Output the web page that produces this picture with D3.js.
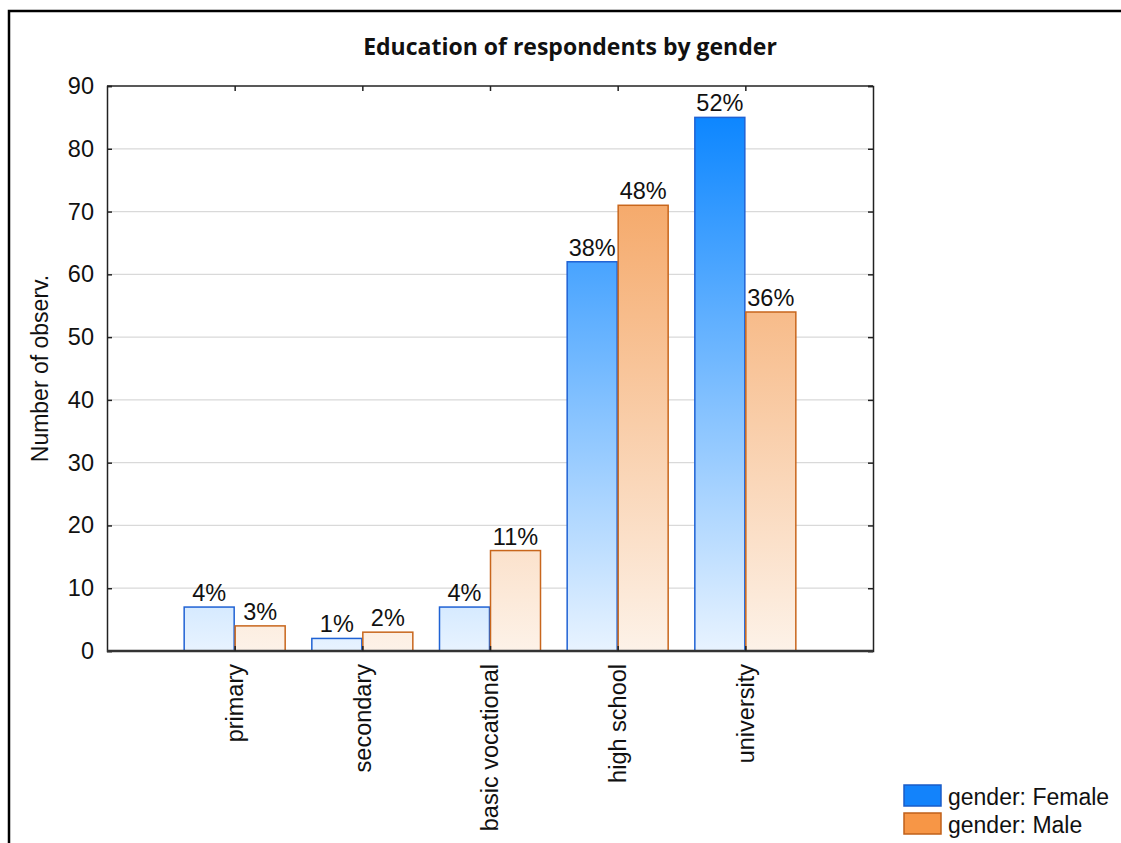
<!DOCTYPE html>
<html>
<head>
<meta charset="utf-8">
<script src="https://cdn.jsdelivr.net/npm/d3@7"></script>
<style>
  html, body { margin: 0; padding: 0; background: #fff; }
  svg { display: block; }
  text { font-family: "Liberation Sans", Arial, sans-serif; fill: #111; }
</style>
</head>
<body>
<svg id="chart" width="1121" height="843"></svg>
<script>
// Education level counts by gender
const categories = ["primary", "secondary", "basic vocational", "high school", "university"];
const genders = ["Female", "Male"];
const femaleCounts = [7, 2, 7, 62, 85];
const maleCounts = [4, 3, 16, 71, 54];
const femaleShare = ["4%", "1%", "4%", "38%", "52%"];
const maleShare = ["3%", "2%", "11%", "48%", "36%"];
const yTicks = [0, 10, 20, 30, 40, 50, 60, 70, 80, 90];

const svg = d3.select("#chart");
const W = 1121, H = 843;
const plot = { left: 107, right: 873, top: 86, bottom: 651 };
const FONT = "23.5px";

const x = d3.scalePoint().domain(categories).range([plot.left, plot.right]).padding(1);
const xInner = d3.scaleBand().domain(genders).range([-51, 51]);
const y = d3.scaleLinear().domain([0, 90]).range([plot.bottom, plot.top]);

// Vertical gradients spanning the value range, shared by every bar of a series
const defs = svg.append("defs");
function gradient(id, top, bottom) {
  const g = defs.append("linearGradient").attr("id", id)
    .attr("gradientUnits", "userSpaceOnUse")
    .attr("x1", 0).attr("x2", 0).attr("y1", y(90)).attr("y2", y(0));
  g.append("stop").attr("offset", 0).attr("stop-color", top);
  g.append("stop").attr("offset", 1).attr("stop-color", bottom);
}
gradient("gradFemale", "#0080ff", "#e8f3ff");
gradient("gradMale", "#f3974b", "#fdf2e8");

const styles = {
  Female: { fill: "url(#gradFemale)", stroke: "#1f62d4", legend: "#1383fb", legendStroke: "#1a5cc8" },
  Male: { fill: "url(#gradMale)", stroke: "#c8661c", legend: "#f79646", legendStroke: "#c0601a" }
};

// Outer frame
svg.append("path")
  .attr("d", `M9,${H} L9,11 L${W},11`)
  .attr("fill", "none").attr("stroke", "#000").attr("stroke-width", 2.5);

// Title
svg.append("text")
  .attr("x", 570).attr("y", 55)
  .attr("text-anchor", "middle")
  .style("font-family", "'Open Sans', sans-serif")
  .style("font-weight", "bold")
  .style("font-size", "23px")
  .text("Education of respondents by gender");

// Horizontal gridlines
svg.append("g").selectAll("line")
  .data(yTicks.filter(t => t > 0 && t < 90))
  .join("line")
  .attr("x1", plot.left).attr("x2", plot.right)
  .attr("y1", d => y(d)).attr("y2", d => y(d))
  .attr("stroke", "#d9d9d9").attr("stroke-width", 1.2);

// Bars
const rows = categories.map((c, i) => ({
  category: c,
  values: [
    { gender: "Female", value: femaleCounts[i], label: femaleShare[i] },
    { gender: "Male", value: maleCounts[i], label: maleShare[i] }
  ]
}));

const groups = svg.append("g").selectAll("g")
  .data(rows).join("g")
  .attr("transform", d => `translate(${x(d.category)},0)`);

groups.selectAll("rect")
  .data(d => d.values).join("rect")
  .attr("x", d => xInner(d.gender) + 0.5)
  .attr("width", xInner.bandwidth() - 1)
  .attr("y", d => y(d.value))
  .attr("height", d => y(0) - y(d.value))
  .attr("fill", d => styles[d.gender].fill)
  .attr("stroke", d => styles[d.gender].stroke)
  .attr("stroke-width", 1.5);

groups.selectAll("text.val")
  .data(d => d.values).join("text")
  .attr("class", "val")
  .attr("x", d => xInner(d.gender) + xInner.bandwidth() / 2)
  .attr("y", d => y(d.value) - 6)
  .attr("text-anchor", "middle")
  .style("font-size", FONT)
  .text(d => d.label);

// Axes: left and bottom with labels, top and right as frame with inner ticks
const axisColor = "#222";
const left = svg.append("g").attr("transform", `translate(${plot.left},0)`)
  .call(d3.axisLeft(y).tickValues(yTicks).tickSize(0).tickPadding(13));
left.select(".domain").remove();
left.selectAll("text").style("font-size", FONT).style("font-family", "'Liberation Sans', Arial, sans-serif").attr("fill", "#111");

svg.append("g").attr("transform", `translate(${plot.left},0)`)
  .call(d3.axisRight(y).tickValues(yTicks).tickSize(5).tickFormat(""))
  .call(g => g.selectAll("line,path").attr("stroke", axisColor).attr("stroke-width", 1.5));
svg.append("g").attr("transform", `translate(${plot.right},0)`)
  .call(d3.axisLeft(y).tickValues(yTicks).tickSize(5).tickFormat(""))
  .call(g => g.selectAll("line,path").attr("stroke", axisColor).attr("stroke-width", 1.5));
svg.append("g").attr("transform", `translate(0,${plot.top})`)
  .call(d3.axisBottom(x).tickSize(5).tickFormat(""))
  .call(g => g.select(".domain").attr("d", `M${plot.left},0H${plot.right}`))
  .call(g => g.selectAll("line,path").attr("stroke", axisColor).attr("stroke-width", 1.5));
svg.append("g").attr("transform", `translate(0,${plot.bottom})`)
  .call(d3.axisTop(x).tickSize(5).tickFormat(""))
  .call(g => g.select(".domain").attr("d", `M${plot.left},0H${plot.right}`))
  .call(g => g.selectAll("line").attr("stroke", axisColor).attr("stroke-width", 1.5))
  .call(g => g.select(".domain").attr("stroke", "#333").attr("stroke-width", 2.5));

// Rotated category labels
svg.append("g").selectAll("text")
  .data(categories).join("text")
  .attr("transform", d => `translate(${x(d)},664) rotate(-90)`)
  .attr("text-anchor", "end")
  .attr("dy", "0.35em")
  .style("font-size", FONT)
  .text(d => d);

// Y axis title
svg.append("text")
  .attr("transform", `translate(48,${(plot.top + plot.bottom) / 2}) rotate(-90)`)
  .attr("text-anchor", "middle")
  .style("font-size", "23px")
  .text("Number of observ.");

// Legend
const legend = svg.append("g").selectAll("g")
  .data(genders).join("g")
  .attr("transform", (d, i) => `translate(904,${785 + i * 28})`);
legend.append("rect")
  .attr("width", 37).attr("height", 21)
  .attr("fill", d => styles[d].legend)
  .attr("stroke", d => styles[d].legendStroke)
  .attr("stroke-width", 1.5);
legend.append("text")
  .attr("x", 44).attr("y", 20)
  .style("font-size", "23px")
  .text(d => `gender: ${d}`);
</script>
</body>
</html>
